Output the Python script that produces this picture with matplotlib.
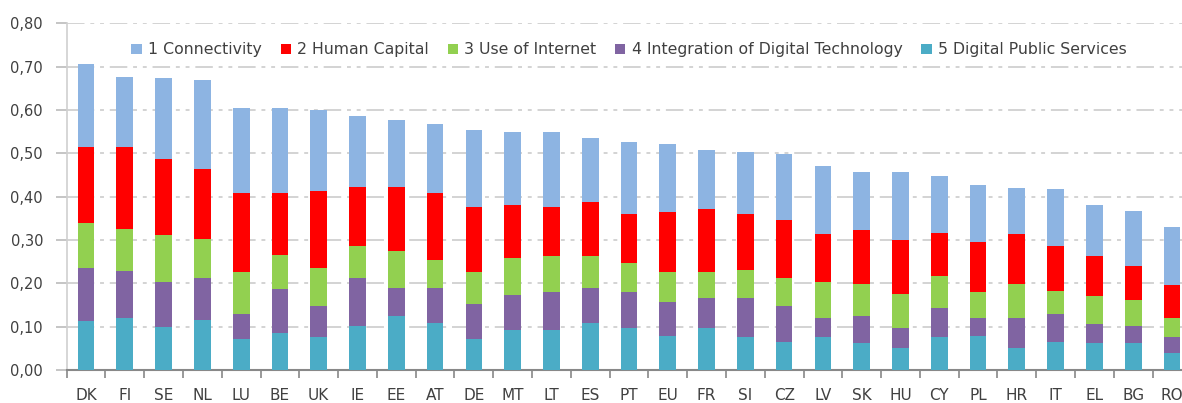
import matplotlib
matplotlib.use('Agg')
import matplotlib.pyplot as plt
import numpy as np

countries = ['DK', 'FI', 'SE', 'NL', 'LU', 'BE', 'UK', 'IE', 'EE', 'AT', 'DE', 'MT', 'LT', 'ES', 'PT',
             'EU', 'FR', 'SI', 'CZ', 'LV', 'SK', 'HU', 'CY', 'PL', 'HR', 'IT', 'EL', 'BG', 'RO']

# component scores, bottom of the stack first
public_services = [.112, .121, .099, .115, .071, .085, .075, .102, .125, .108, .071, .092, .092, .108, .098,
                   .079, .098, .075, .065, .075, .062, .051, .075, .079, .051, .065, .062, .062, .039]
integration = [.123, .108, .103, .097, .058, .103, .073, .110, .064, .081, .081, .080, .087, .081, .081,
               .077, .067, .090, .083, .046, .063, .047, .069, .042, .070, .064, .044, .040, .036]
use_internet = [.105, .096, .110, .090, .096, .077, .087, .073, .086, .065, .073, .086, .083, .073, .069,
                .069, .060, .066, .064, .081, .073, .077, .073, .058, .077, .054, .065, .060, .046]
human_capital = [.174, .189, .175, .161, .184, .144, .178, .138, .148, .155, .152, .123, .115, .125, .111,
                 .139, .147, .128, .134, .111, .125, .125, .100, .116, .115, .102, .092, .078, .074]
connectivity = [.192, .163, .186, .206, .195, .195, .187, .163, .154, .159, .177, .168, .172, .149, .166,
                .158, .136, .145, .152, .158, .135, .158, .131, .132, .108, .132, .118, .127, .136]

series = [
    (public_services, '5 Digital Public Services', '#4BACC6'),
    (integration, '4 Integration of Digital Technology', '#8064A2'),
    (use_internet, '3 Use of Internet', '#92D050'),
    (human_capital, '2 Human Capital', '#FF0000'),
    (connectivity, '1 Connectivity', '#8DB4E2'),
]

fig = plt.figure(figsize=(11.82, 4.03), dpi=100)
ax = fig.add_axes([0.0564, 0.0819, 0.9515, 0.8603])

x = np.arange(len(countries))
bottom = np.zeros(len(countries))
handles = []
for vals, name, col in series:
    b = ax.bar(x, vals, 0.43, bottom=bottom, color=col, label=name, zorder=3)
    bottom += np.array(vals)
    handles.append(b)

ax.set_xlim(-0.5, len(countries) - 0.5)
ax.set_ylim(0, 0.8)
yt = np.arange(0, 0.81, 0.1)
ax.set_yticks(yt)
ax.set_yticklabels([('%.2f' % v).replace('.', ',') for v in yt])

for v in yt[1:]:
    ax.axhline(v, color='#D3D3D3', lw=1.4, linestyle=(0, (9, 3, 2, 3, 2, 3)), zorder=1)

ax.set_xticks(x)
ax.set_xticklabels(countries)
ax.set_xticks(np.arange(-0.5, len(countries), 1), minor=True)
ax.tick_params(axis='x', which='major', length=0, pad=13, labelsize=11, labelcolor='#404040')
ax.tick_params(axis='x', which='minor', length=6, width=1.2, color='#888888', direction='out')
ax.tick_params(axis='y', length=8, width=1.2, color='#BBBBBB', pad=9, labelsize=10.5, labelcolor='#404040')

for s in ['top', 'right']:
    ax.spines[s].set_visible(False)
ax.spines['left'].set_color('#D0D0D0')
ax.spines['bottom'].set_color('#888888')
ax.spines['left'].set_linewidth(1.2)
ax.spines['bottom'].set_linewidth(1.5)

leg = ax.legend(handles[::-1], [h.get_label() for h in handles[::-1]], loc='center',
                bbox_to_anchor=(0.5, 0.923), ncol=5, frameon=False, fontsize=11.3,
                handlelength=0.65, handleheight=0.65, handletextpad=0.4, columnspacing=1.2)
for t in leg.get_texts():
    t.set_color('#404040')

fig.savefig('out.png', dpi=100)
